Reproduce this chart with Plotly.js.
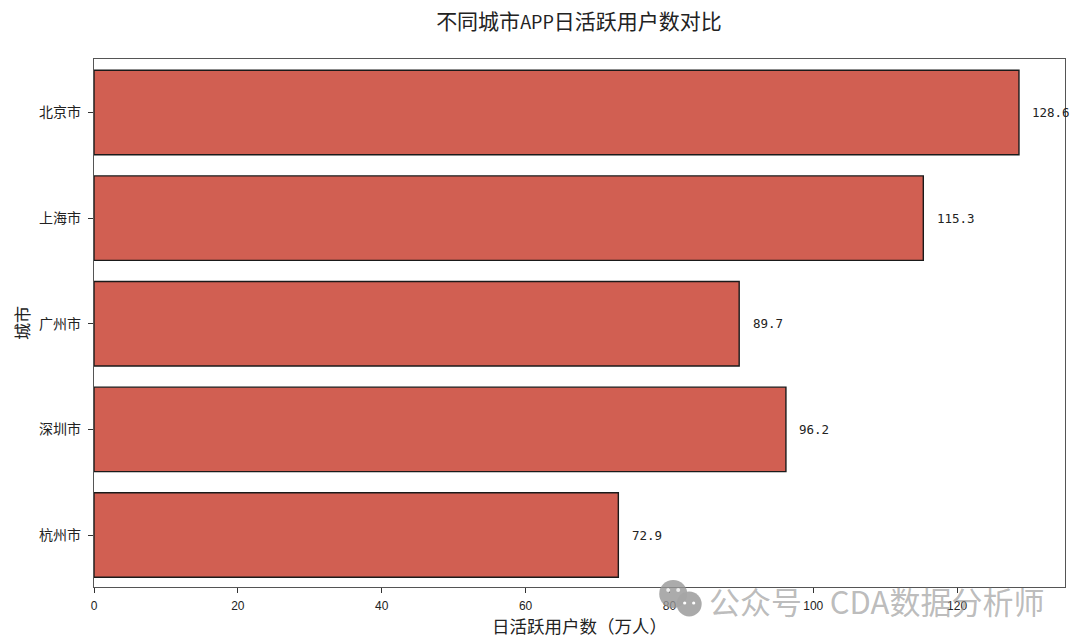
<!DOCTYPE html>
<html>
<head>
<meta charset="utf-8">
<script src="https://cdn.plot.ly/plotly-3.0.1.min.js"></script>
<style>html,body{margin:0;padding:0;background:#fff}#c{width:1080px;height:643px}</style>
</head>
<body>
<div id="c"></div>
<script>
var cities = ['北京市', '上海市', '广州市', '深圳市', '杭州市'];
var users = [128.6, 115.3, 89.7, 96.2, 72.9];
var xTicks = [0, 20, 40, 60, 80, 100, 120];
var titleText = '不同城市<span style="font-size:18px">APP</span>日活跃用户数对比';
var xTitle = '日活跃用户数（万人）';
var yTitle = '城市';
var watermark = '公众号\u00A0\u00A0\u00A0\u00A0CDA数据分析师';

var W = 1080, H = 643;
var mL = 93.5, mR = 15, mT = 59, mB = 56;
var cjk = '"Noto Sans CJK SC", sans-serif';
function px(x){ return (x - mL) / (W - mL - mR); }
function py(y){ return (H - mB - y) / (H - mT - mB); }
function circle(cx, cy, r, fill){
  return {type:'circle', xref:'paper', yref:'paper', layer:'above',
    x0:px(cx-r), x1:px(cx+r), y0:py(cy+r), y1:py(cy-r),
    fillcolor:fill, line:{width:0}};
}
var annotations = users.map(function(v, i){
  return {x:v, y:cities[i], xref:'x', yref:'y', text:v.toFixed(1), showarrow:false,
    xanchor:'left', xshift:11.5, yshift:0, font:{family:'"DejaVu Sans Mono", monospace', size:12.5, color:'#222'}};
});
annotations.push({xref:'paper', yref:'paper', x:px(707), y:py(600), xanchor:'left', yanchor:'middle',
  text:watermark, showarrow:false, font:{family:cjk, size:31, color:'rgba(150,150,150,0.65)'}});

var shapes = [
  circle(673, 594, 14, 'rgba(150,150,150,0.8)'),
  circle(689, 604, 12.5, 'rgba(165,165,165,0.95)'),
  circle(668, 590, 2, '#eee'), circle(678, 590, 2, '#eee'),
  circle(684.5, 603, 1.6, '#fff'), circle(693.5, 603, 1.6, '#fff')
];

var trace = {
  type:'bar', orientation:'h', x:users, y:cities, width:0.8,
  marker:{color:'#D15F52', line:{color:'#1a1a1a', width:1.4}},
  hoverinfo:'x+y', cliponaxis:false
};
var layout = {
  width:W, height:H, paper_bgcolor:'#fff', plot_bgcolor:'#fff', showlegend:false,
  margin:{l:mL, r:mR, t:mT, b:mB, pad:0},
  title:{text:titleText, x:579/W, xanchor:'center', y:1-22/H, yanchor:'middle', font:{family:cjk, size:21, color:'#222'}},
  xaxis:{range:[0, 135], tickvals:xTicks, ticktext:xTicks.map(String), ticks:'outside', ticklen:5, tickwidth:1, tickcolor:'#333', ticklabelstandoff:2,
    showgrid:false, zeroline:false, showline:true, mirror:true, linecolor:'#555', linewidth:1.3,
    tickfont:{family:'"Liberation Sans", sans-serif', size:12, color:'#222'},
    title:{text:xTitle, standoff:5, font:{family:cjk, size:17.5, color:'#222'}}},
  yaxis:{type:'category', categoryorder:'array', categoryarray:cities, range:[4.492, -0.507], ticks:'outside', ticklen:5, tickwidth:1, tickcolor:'#333', ticklabelstandoff:4,
    showgrid:false, zeroline:false, showline:true, mirror:true, linecolor:'#555', linewidth:1.3,
    tickfont:{family:cjk, size:14, color:'#222'},
    title:{text:yTitle, standoff:5, font:{family:cjk, size:17, color:'#222'}}},
  annotations:annotations, shapes:shapes
};
Plotly.newPlot('c', [trace], layout, {displayModeBar:false, responsive:false});
</script>
</body>
</html>
